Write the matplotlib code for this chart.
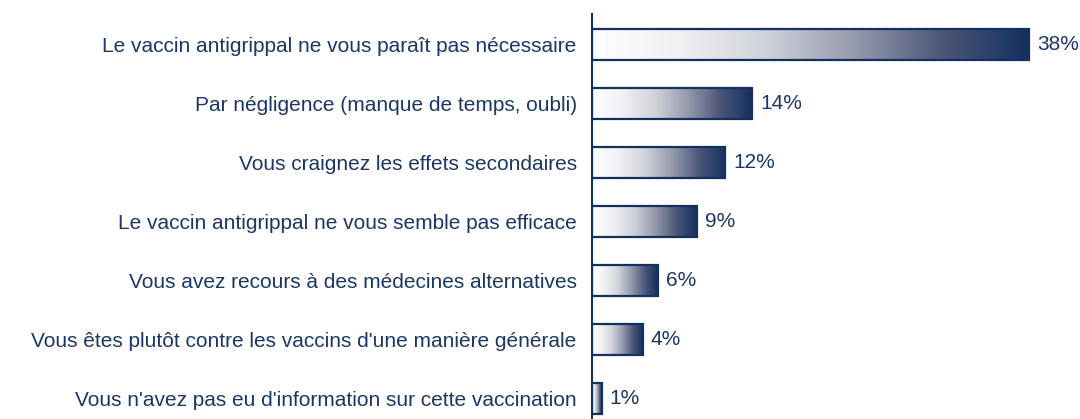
import matplotlib
matplotlib.use("Agg")
import matplotlib.pyplot as plt
import numpy as np
from matplotlib.colors import LinearSegmentedColormap
from matplotlib.patches import Rectangle

categories = [
    "Le vaccin antigrippal ne vous paraît pas nécessaire",
    "Par négligence (manque de temps, oubli)",
    "Vous craignez les effets secondaires",
    "Le vaccin antigrippal ne vous semble pas efficace",
    "Vous avez recours à des médecines alternatives",
    "Vous êtes plutôt contre les vaccins d'une manière générale",
    "Vous n'avez pas eu d'information sur cette vaccination",
]
values = [38.0, 13.9, 11.6, 9.1, 5.7, 4.4, 0.85]
value_labels = ["38%", "14%", "12%", "9%", "6%", "4%", "1%"]

navy = "#13305f"
text_col = "#1b3766"
plt.rcParams['font.family'] = ['Liberation Sans', 'DejaVu Sans']

cmap = LinearSegmentedColormap.from_list(
    "grad", ["#ffffff", "#eef0f2", "#cfd2d9", "#959aad", "#4d5779", "#13305f"])

fig = plt.figure(figsize=(10.8, 4.19), dpi=100)
ax = fig.add_axes([592/1080, 0, 1 - 592/1080, 1 - 14/419])

h = 0.525
ys = np.arange(len(categories))
grad = np.linspace(0, 1, 256).reshape(1, -1)
for y, v, lab in zip(ys, values, value_labels):
    ax.imshow(grad, cmap=cmap, aspect='auto', extent=(0, v, y + h/2, y - h/2),
              interpolation='bilinear', zorder=2)
    ax.add_patch(Rectangle((0, y - h/2), v, h, fill=False, edgecolor=navy,
                           linewidth=1.6, zorder=3))
    ax.text(v + 0.7, y, lab, va='center', ha='left', fontsize=15, color=text_col)

ax.set_xlim(0, 488/11.5)
ax.set_ylim(6.347, -0.517)
ax.set_yticks(ys)
ax.set_yticklabels(categories, fontsize=15, color=text_col)
ax.tick_params(axis='y', length=0, pad=11)
ax.set_xticks([])
for s in ['top', 'right', 'bottom']:
    ax.spines[s].set_visible(False)
ax.spines['left'].set_color(navy)
ax.spines['left'].set_linewidth(1.5)
ax.set_facecolor('none')

fig.savefig("out.png", dpi=100)
